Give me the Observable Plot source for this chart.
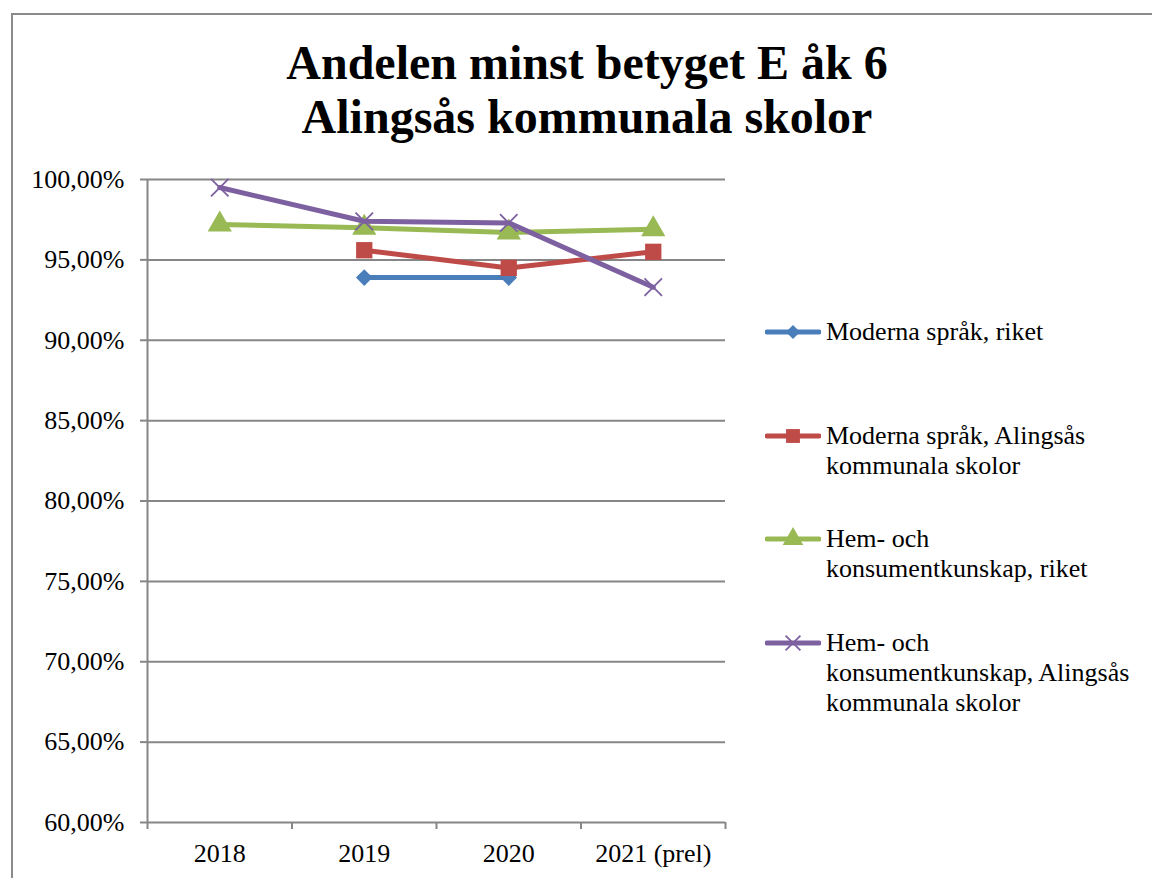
<!DOCTYPE html>
<html>
<head>
<meta charset="utf-8">
<script src="https://cdn.jsdelivr.net/npm/d3@7"></script>
<script src="https://cdn.jsdelivr.net/npm/@observablehq/plot@0.6"></script>
<style>
  html, body { margin: 0; padding: 0; background: #fff; }
  #wrap { position: relative; width: 1152px; height: 878px; overflow: hidden; font-family: "Liberation Serif", "Times New Roman", serif; }
  #frame { position: absolute; left: 11px; top: 13px; width: 1300px; height: 1000px; border: 2px solid #8a8a8a; box-sizing: border-box; }
  .tline { position: absolute; left: 0; width: 1174px; text-align: center; font-weight: bold; font-size: 48px; line-height: 48px; height: 48px; color: #000; white-space: nowrap; }
  #chart { position: absolute; left: 0; top: 0; }
  .leg { position: absolute; left: 765px; display: flex; align-items: flex-start; }
  .leg svg { flex: none; }
  .leg div { font-size: 26px; line-height: 30px; color: #000; margin-left: 5px; }
</style>
</head>
<body>
<div id="wrap">
  <div id="frame"></div>
  <div class="tline" style="top:39px">Andelen minst betyget E åk 6</div>
  <div class="tline" style="top:93px">Alingsås kommunala skolor</div>
  <div id="chart"></div>
  <div id="legend"></div>
</div>
<script>
const years = ["2018", "2019", "2020", "2021 (prel)"];
const seriesNames = [
  "Moderna språk, riket",
  "Moderna språk, Alingsås kommunala skolor",
  "Hem- och konsumentkunskap, riket",
  "Hem- och konsumentkunskap, Alingsås kommunala skolor"
];
const legendLines = [
  ["Moderna språk, riket"],
  ["Moderna språk, Alingsås", "kommunala skolor"],
  ["Hem- och", "konsumentkunskap, riket"],
  ["Hem- och", "konsumentkunskap, Alingsås", "kommunala skolor"]
];
const modernaRiket    = [null, 0.939, 0.939, null];
const modernaAlingsas = [null, 0.956, 0.945, 0.955];
const hemRiket        = [0.972, 0.970, 0.967, 0.969];
const hemAlingsas     = [0.995, 0.974, 0.973, 0.933];
const yTicks = [0.60, 0.65, 0.70, 0.75, 0.80, 0.85, 0.90, 0.95, 1.00];

const colors = ["#4a7ebb", "#be4b48", "#98b954", "#7d60a0"];
const symbols = [d3.symbolDiamond2, d3.symbolSquare, d3.symbolTriangle, d3.symbolTimes];
const radii = [7.5, 9.2, 9, 8];
const allValues = [modernaRiket, modernaAlingsas, hemRiket, hemAlingsas];

const fmt = d3.formatLocale({decimal: ",", thousands: "\u00a0", grouping: [3], currency: ["", " kr"], percent: "%"}).format(".2%");
const grid = "#868686";

const seriesMarks = [];
allValues.forEach((vals, s) => {
  const rows = vals.map((v, i) => ({i, v})).filter(d => d.v != null);
  seriesMarks.push(Plot.line(rows, {x: "i", y: "v", stroke: colors[s], strokeWidth: 5, strokeLinejoin: "round", strokeLinecap: "round"}));
  const stroked = s === 3;
  seriesMarks.push(Plot.dot(rows, {
    x: "i", y: "v", symbol: symbols[s], r: radii[s],
    fill: stroked ? "none" : colors[s],
    stroke: stroked ? colors[s] : "none",
    strokeWidth: stroked ? 1.8 : 0
  }));
});

const chart = Plot.plot({
  width: 1152, height: 878,
  marginLeft: 147, marginRight: 427, marginTop: 179, marginBottom: 56,
  style: {fontFamily: "Liberation Serif, Times New Roman, serif", fontSize: "26px", color: "#000", background: "transparent", overflow: "visible"},
  x: {type: "linear", domain: [-0.5, 3.5], axis: null, label: null},
  y: {domain: [0.6, 1.0], axis: null, label: null},
  marks: [
    Plot.ruleY(yTicks, {stroke: grid, strokeWidth: 2}),
    Plot.ruleX([-0.5], {stroke: grid, strokeWidth: 2}),
    Plot.axisY({ticks: yTicks, tickFormat: fmt, tickSize: 7, tickPadding: 16, stroke: grid, strokeWidth: 2, fill: "#000", fontSize: 26, label: null}),
    Plot.axisX({ticks: [-0.5, 0.5, 1.5, 2.5, 3.5], tickFormat: () => "", tickSize: 7, stroke: grid, strokeWidth: 2, label: null}),
    Plot.axisX({ticks: [0, 1, 2, 3], tickFormat: i => years[i], tickSize: 0, tickPadding: 21, fill: "#000", fontSize: 26, label: null}),
    ...seriesMarks
  ]
});
document.getElementById("chart").appendChild(chart);

// Legend
const legendTops = [317, 421, 524, 628];
const legend = document.getElementById("legend");
seriesNames.forEach((name, s) => {
  const item = document.createElement("div");
  item.className = "leg";
  item.style.top = legendTops[s] + "px";
  const svg = d3.create("svg").attr("width", 56).attr("height", 30);
  svg.append("line").attr("x1", 2).attr("x2", 54).attr("y1", 15).attr("y2", 15)
    .attr("stroke", colors[s]).attr("stroke-width", 5).attr("stroke-linecap", "round");
  const stroked = s === 3;
  const size = Math.PI * (radii[s] * 0.85) ** 2;
  svg.append("path").attr("transform", "translate(28,15)")
    .attr("d", d3.symbol(symbols[s], size)())
    .attr("fill", stroked ? "none" : colors[s])
    .attr("stroke", stroked ? colors[s] : "none")
    .attr("stroke-width", stroked ? 1.8 : 0);
  item.appendChild(svg.node());
  const txt = document.createElement("div");
  txt.innerHTML = legendLines[s].join("<br>");
  item.appendChild(txt);
  legend.appendChild(item);
});
</script>
</body>
</html>
